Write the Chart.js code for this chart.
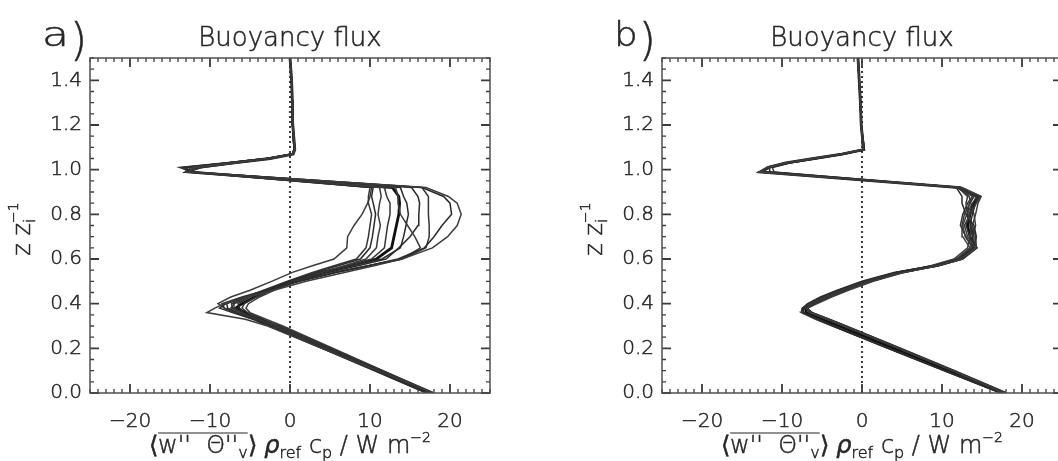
<!DOCTYPE html>
<html><head><meta charset="utf-8">
<script src="https://cdn.jsdelivr.net/npm/chart.js@4.4.1/dist/chart.umd.min.js"></script>
<style>
html,body{margin:0;padding:0;background:#fff;width:1058px;height:461px;overflow:hidden;position:relative}
canvas{position:absolute;top:0}
#ca{left:0}
#cb{left:572px}
</style></head><body>
<canvas id="ca" width="529" height="461" style="width:529px;height:461px"></canvas>
<canvas id="cb" width="529" height="461" style="width:529px;height:461px"></canvas>
<script>
// ---- data: normalized height levels (z/zi) shared by all profiles ----
const Z = [0.00, 0.10, 0.20, 0.30, 0.33, 0.36, 0.38, 0.40, 0.43, 0.46, 0.50, 0.54, 0.57, 0.60, 0.65, 0.70, 0.75, 0.80, 0.85, 0.88, 0.92, 0.99, 1.01, 1.03, 1.05, 1.07, 1.09, 1.20, 1.30, 1.40, 1.50];

// panel a) buoyancy flux profiles (W m-2)
const A1 = [17.5, 11.1, 4.7, -1.7, -3.6, -5.6, -6.8, -6.0, -4.4, -2.6, 0.2, 4.0, 7.5, 10.8, 12.7, 13.0, 13.3, 13.6, 13.7, 13.6, 12.8, -12.8, -11.5, -7.0, -2.5, 0.4, 0.6, 0.35, 0.3, 0.2, 0.0];
const A2 = [17.9, 11.0, 4.0, -2.8, -5.6, -10.4, -9.4, -8.2, -5.5, -2.0, 2.0, 6.8, 10.5, 14.0, 17.8, 19.7, 20.9, 21.4, 20.9, 19.8, 17.0, -12.6, -12.2, -7.5, -2.8, 0.3, 0.6, 0.35, 0.3, 0.2, 0.0];
const A3 = [17.2, 10.6, 4.0, -2.6, -4.6, -7.2, -8.8, -8.0, -5.8, -2.8, 1.2, 5.8, 9.8, 13.5, 16.8, 18.0, 19.0, 20.2, 20.0, 19.2, 16.5, -12.4, -13.2, -8.0, -3.0, 0.3, 0.5, 0.35, 0.3, 0.2, 0.0];
const A4 = [18.0, 11.6, 5.2, -1.4, -4.0, -6.8, -8.2, -8.5, -6.0, -3.0, 1.0, 5.5, 9.8, 14.0, 17.0, 17.4, 17.4, 17.3, 17.3, 17.3, 16.5, -12.2, -13.8, -8.2, -3.0, 0.3, 0.5, 0.35, 0.3, 0.2, 0.0];
const A5 = [17.0, 10.5, 4.0, -2.5, -4.4, -6.2, -7.4, -7.0, -5.0, -2.4, 1.0, 5.5, 9.8, 14.0, 16.3, 15.6, 14.7, 13.8, 13.5, 13.5, 13.2, -12.9, -11.8, -7.2, -2.6, 0.4, 0.6, 0.35, 0.3, 0.2, 0.0];
const A6 = [17.6, 11.4, 5.1, -1.3, -3.8, -6.5, -7.8, -7.9, -5.6, -2.8, 0.8, 4.8, 8.5, 12.0, 13.6, 15.0, 16.0, 16.1, 16.2, 16.0, 15.2, -12.6, -13.5, -8.0, -3.0, 0.3, 0.5, 0.35, 0.3, 0.2, 0.0];
const A7 = [17.3, 10.9, 4.5, -1.9, -3.7, -5.3, -6.0, -5.7, -4.2, -2.4, 0.3, 4.0, 7.2, 10.2, 11.8, 12.0, 12.2, 12.5, 12.5, 12.1, 11.8, -12.8, -11.0, -6.8, -2.4, 0.4, 0.6, 0.35, 0.3, 0.2, 0.0];
const A8 = [17.8, 11.6, 5.4, -0.9, -3.0, -5.0, -5.5, -5.2, -3.8, -2.0, 0.6, 4.0, 6.8, 9.5, 10.8, 11.0, 11.3, 11.0, 11.2, 11.4, 11.2, -12.5, -11.8, -7.2, -2.6, 0.4, 0.6, 0.35, 0.3, 0.2, 0.0];
const A9 = [17.1, 10.7, 4.2, -2.2, -4.1, -5.8, -6.3, -6.5, -5.0, -3.0, -0.2, 3.2, 6.0, 8.8, 10.0, 10.3, 10.5, 10.7, 10.4, 10.2, 10.4, -12.7, -12.5, -7.5, -2.7, 0.3, 0.5, 0.35, 0.3, 0.2, 0.0];
const A10 = [17.7, 11.3, 4.9, -1.6, -3.9, -6.0, -6.9, -7.0, -5.4, -3.3, -0.4, 2.8, 5.5, 8.3, 9.5, 9.8, 10.0, 10.2, 9.8, 9.8, 10.0, -12.3, -13.0, -7.8, -2.9, 0.3, 0.5, 0.35, 0.3, 0.2, 0.0];
const A11 = [17.4, 10.8, 4.1, -2.5, -4.6, -6.9, -8.2, -9.0, -7.4, -5.0, -2.3, 0.3, 2.8, 5.5, 7.1, 7.2, 8.0, 9.0, 9.7, 10.0, 10.2, -13.0, -12.0, -7.3, -2.6, 0.4, 0.6, 0.35, 0.3, 0.2, 0.0];
const A12 = [17.9, 11.5, 5.0, -1.5, -3.8, -6.1, -7.2, -7.3, -5.5, -3.2, 0.0, 3.8, 7.5, 11.5, 13.8, 14.2, 14.5, 14.8, 14.6, 14.2, 13.8, -12.6, -12.0, -7.4, -2.7, 0.4, 0.6, 0.35, 0.3, 0.2, 0.0];

// panel b) buoyancy flux profiles (W m-2)
const B1 = [17.8, 11.3, 4.6, -2.2, -4.3, -6.4, -6.8, -5.6, -3.8, -1.7, 1.4, 5.3, 9.3, 12.3, 14.2, 13.2, 12.8, 13.5, 14.3, 14.8, 12.3, -12.8, -11.8, -9.5, -6.0, -2.5, 0.2, -0.1, -0.2, -0.35, -0.5];
const B2 = [17.4, 10.3, 3.3, -3.6, -5.6, -7.3, -7.4, -6.8, -5.2, -3.1, 0.0, 4.0, 9.0, 12.0, 14.0, 13.8, 13.5, 13.8, 14.2, 14.6, 12.0, -12.6, -11.6, -9.3, -5.8, -2.4, 0.2, -0.1, -0.2, -0.35, -0.5];
const B3 = [18.0, 11.5, 4.8, -2.0, -4.1, -6.2, -7.0, -6.2, -4.3, -2.1, 1.0, 5.0, 9.5, 12.5, 14.3, 14.2, 13.8, 13.2, 13.0, 13.2, 12.0, -12.2, -11.9, -9.6, -6.1, -2.6, 0.1, -0.1, -0.2, -0.35, -0.5];
const B4 = [17.3, 10.2, 3.2, -3.7, -5.8, -7.6, -7.5, -6.6, -5.0, -2.9, 0.3, 4.3, 8.8, 11.8, 13.5, 12.6, 12.5, 12.8, 13.5, 14.0, 11.9, -12.9, -11.5, -9.4, -5.9, -2.5, 0.2, -0.1, -0.2, -0.35, -0.5];
const B5 = [17.9, 11.4, 4.7, -2.1, -4.2, -6.3, -6.8, -5.8, -4.0, -1.9, 1.2, 5.2, 9.2, 12.2, 14.0, 14.3, 14.0, 13.0, 12.5, 12.5, 11.8, -11.5, -11.6, -9.2, -5.8, -2.3, 0.3, -0.1, -0.2, -0.35, -0.5];
const B6 = [17.4, 10.4, 3.4, -3.5, -5.5, -7.4, -7.2, -6.4, -4.8, -2.8, 0.3, 4.3, 9.4, 12.4, 13.8, 13.0, 12.3, 12.6, 13.2, 13.8, 12.1, -12.7, -11.7, -9.5, -6.0, -2.5, 0.2, -0.1, -0.2, -0.35, -0.5];
const B7 = [18.1, 11.6, 4.9, -2.0, -4.1, -6.2, -7.0, -6.1, -4.3, -2.2, 0.9, 4.9, 8.6, 11.5, 13.2, 13.5, 13.8, 14.2, 14.5, 14.9, 12.5, -12.8, -11.9, -9.6, -6.1, -2.6, 0.1, -0.1, -0.2, -0.35, -0.5];
const B8 = [17.5, 10.4, 3.4, -3.5, -5.6, -7.5, -7.4, -6.5, -4.8, -2.8, 0.4, 4.5, 9.6, 12.6, 14.4, 13.5, 13.0, 13.4, 13.9, 14.3, 12.3, -12.5, -11.4, -9.2, -5.7, -2.3, 0.3, -0.1, -0.2, -0.35, -0.5];
const B9 = [17.8, 11.2, 4.5, -2.3, -4.4, -6.5, -7.1, -6.2, -4.2, -2.1, 1.0, 5.0, 9.0, 11.9, 13.6, 13.8, 14.2, 14.0, 13.6, 13.4, 12.1, -11.0, -11.2, -9.0, -5.6, -2.2, 0.3, -0.1, -0.2, -0.35, -0.5];
const B10 = [17.4, 10.3, 3.3, -3.6, -5.6, -7.3, -7.3, -6.5, -4.9, -2.8, 0.3, 4.3, 9.3, 12.1, 13.9, 12.9, 12.6, 13.1, 13.8, 14.5, 12.4, -12.8, -11.8, -9.5, -6.0, -2.5, 0.2, -0.1, -0.2, -0.35, -0.5];
const B11 = [17.9, 11.3, 4.6, -2.2, -4.3, -6.6, -7.0, -6.0, -4.1, -2.1, 1.1, 5.1, 9.1, 12.0, 14.1, 14.0, 13.6, 13.2, 13.4, 14.0, 12.2, -12.4, -11.7, -9.4, -5.9, -2.4, 0.2, -0.1, -0.2, -0.35, -0.5];
const B12 = [17.6, 10.8, 4.0, -2.9, -5.0, -7.0, -7.0, -6.1, -4.4, -2.4, 0.7, 4.7, 9.3, 12.2, 14.0, 13.5, 13.2, 13.5, 14.1, 14.6, 12.2, -12.7, -11.7, -9.5, -6.0, -2.5, 0.2, -0.1, -0.2, -0.35, -0.5];

const X_TICKS = [-20, -10, 0, 10, 20];
const Y_TICKS = [0.0, 0.2, 0.4, 0.6, 0.8, 1.0, 1.2, 1.4];
const X_RANGE = [-25, 25];
const Y_RANGE = [0, 1.5];

const PANEL_A = [A2, A3, A4, A5, A6, A7, A8, A9, A10, A11, A12, A1];
const PANEL_B = [B1, B2, B3, B4, B5, B6, B7, B8, B9, B10, B11, B12];

// ---- styling ----
const FONT = "'DejaVu Sans', 'Liberation Sans', sans-serif";
const WEIGHT = 200;
const INK = '#262626';
const fnt = (s, it) => `${it ? 'italic ' : ''}${WEIGHT} ${s}px ${FONT}`;

function layoutRich(ctx, parts) {
  let x = 0; const out = [];
  for (const p of parts) {
    ctx.font = fnt(p.s, p.it);
    const w = ctx.measureText(p.t).width;
    out.push({ p, x, w });
    if (!p.noadv) x += w;
  }
  return { items: out, width: x };
}
function txt(ctx, t, x, y) {
  ctx.strokeText(t, x, y);
  ctx.fillText(t, x, y);
}
function drawRich(ctx, parts, cx, base) {
  const L = layoutRich(ctx, parts);
  const x0 = cx - L.width / 2;
  for (const it of L.items) {
    ctx.font = fnt(it.p.s, it.p.it);
    txt(ctx, it.p.t, x0 + it.x, base + (it.p.dy || 0));
  }
  return { x0, items: L.items };
}

const framePlugin = {
  id: 'frame',
  beforeDatasetsDraw(chart) {
    const { ctx, chartArea: a, scales: { x } } = chart;
    const p = x.getPixelForValue(0);
    ctx.save();
    ctx.strokeStyle = '#3a3a3a';
    ctx.lineWidth = 2;
    ctx.setLineDash([2, 3]);
    ctx.beginPath();
    ctx.moveTo(p, a.bottom);
    ctx.lineTo(p, a.top);
    ctx.stroke();
    ctx.restore();
  },
  afterDraw(chart, args, opts) {
    const { ctx, chartArea: a, scales: { x, y } } = chart;
    ctx.save();
    // inward ticks on all four sides
    ctx.strokeStyle = '#3a3a3a';
    for (let v = X_RANGE[0]; v <= X_RANGE[1]; v++) {
      const p = x.getPixelForValue(v);
      const major = v % 10 === 0;
      const len = major ? 9 : 4;
      ctx.lineWidth = major ? 1.8 : 1.3;
      ctx.beginPath();
      ctx.moveTo(p, a.bottom); ctx.lineTo(p, a.bottom - len);
      ctx.moveTo(p, a.top); ctx.lineTo(p, a.top + len);
      ctx.stroke();
    }
    for (let k = 0; k <= 30; k++) {
      const p = y.getPixelForValue(k * 0.05);
      const major = k % 4 === 0;
      const len = major ? 9 : 4;
      ctx.lineWidth = major ? 1.8 : 1.3;
      ctx.beginPath();
      ctx.moveTo(a.left, p); ctx.lineTo(a.left + len, p);
      ctx.moveTo(a.right, p); ctx.lineTo(a.right - len, p);
      ctx.stroke();
    }
    ctx.strokeStyle = '#505050';
    ctx.lineWidth = 1.5;
    ctx.strokeRect(a.left, a.top, a.right - a.left, a.bottom - a.top);

    ctx.fillStyle = INK;
    ctx.strokeStyle = INK;
    ctx.lineWidth = 0.5;
    ctx.textAlign = 'left';
    ctx.textBaseline = 'alphabetic';
    // panel letter
    ctx.save();
    ctx.translate(42, 46);
    ctx.scale(opts.sx, 1);
    ctx.font = fnt(34);
    txt(ctx, opts.letter, 0, 0);
    const lw = ctx.measureText(opts.letter).width * opts.sx;
    ctx.restore();
    ctx.font = fnt(44);
    txt(ctx, ')', 42 + lw + 1, 55);
    // title
    const cx = (a.left + a.right) / 2;
    ctx.font = fnt(26);
    ctx.textAlign = 'center';
    txt(ctx, 'Buoyancy flux', cx, 46);
    ctx.textAlign = 'left';
    // x title
    const parts = [
      { t: '\u27E8', s: 24 },
      { t: "w''  \u0398''", s: 24 },
      { t: 'v', s: 16, dy: 5 },
      { t: '\u27E9 ', s: 24 },
      { t: '\u03C1', s: 24, it: true },
      { t: 'ref', s: 16, dy: 5 },
      { t: ' c', s: 24 },
      { t: 'p', s: 16, dy: 5 },
      { t: ' / W m', s: 24 },
      { t: '\u22122', s: 14, dy: -11 }
    ];
    const r = drawRich(ctx, parts, cx, 453);
    const ol0 = r.x0 + r.items[1].x;
    const ol1 = r.x0 + r.items[2].x + r.items[2].w;
    ctx.lineWidth = 1.2;
    ctx.beginPath();
    ctx.moveTo(ol0, 433); ctx.lineTo(ol1, 433);
    ctx.stroke();
    ctx.lineWidth = 0.5;
    // y title (rotated)
    ctx.save();
    ctx.translate(30, 229);
    ctx.rotate(-Math.PI / 2);
    drawRich(ctx, [
      { t: 'z z', s: 24 },
      { t: 'i', s: 16, dy: 5, noadv: true },
      { t: '\u22121', s: 14, dy: -12 }
    ], 0, 0);
    ctx.restore();
    ctx.restore();
  }
};

function makeChart(id, letter, sx, series) {
  const n = series.length;
  const shades = ['#3c3c3c', '#2a2a2a', '#353535'];
  const datasets = series.map((arr, i) => {
    const bold = i === n - 1;
    return {
      data: Z.map((z, k) => ({ x: arr[k], y: z })),
      showLine: true,
      pointRadius: 0,
      borderColor: bold ? '#111' : shades[i % 3],
      borderWidth: bold ? 2.8 : 1.5,
      tension: 0,
      fill: false
    };
  });
  const tickFont = { family: FONT, size: 20, weight: WEIGHT };
  return new Chart(document.getElementById(id), {
    type: 'scatter',
    data: { datasets },
    options: {
      responsive: false,
      animation: false,
      devicePixelRatio: 1,
      events: [],
      layout: { padding: { left: 0, right: 39, top: 58, bottom: 0 } },
      plugins: { legend: { display: false }, tooltip: { enabled: false }, frame: { letter, sx } },
      scales: {
        x: {
          type: 'linear', min: X_RANGE[0], max: X_RANGE[1],
          afterBuildTicks: s => { s.ticks = X_TICKS.map(v => ({ value: v })); },
          afterFit: s => { s.height = 68; },
          grid: { display: false, drawTicks: false },
          border: { display: false },
          ticks: {
            autoSkip: false, maxRotation: 0, padding: 17, color: INK,
            textStrokeColor: INK, textStrokeWidth: 0.5,
            font: tickFont,
            callback: v => (v < 0 ? '\u2212' + Math.abs(v) : String(v))
          }
        },
        y: {
          type: 'linear', min: Y_RANGE[0], max: Y_RANGE[1],
          afterBuildTicks: s => { s.ticks = Y_TICKS.map(v => ({ value: v })); },
          afterFit: s => { s.width = 90; },
          grid: { display: false, drawTicks: false },
          border: { display: false },
          ticks: {
            autoSkip: false, padding: 8, color: INK,
            textStrokeColor: INK, textStrokeWidth: 0.5,
            font: tickFont,
            callback: v => Number(v).toFixed(1)
          }
        }
      }
    },
    plugins: [framePlugin]
  });
}

makeChart('ca', 'a', 1.3, PANEL_A);
makeChart('cb', 'b', 1.1, PANEL_B);
</script>
</body></html>
